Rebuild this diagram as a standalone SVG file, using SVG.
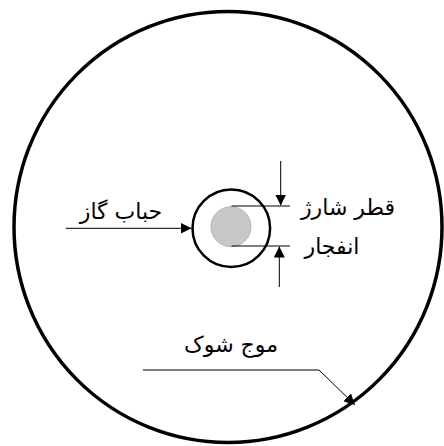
<svg xmlns="http://www.w3.org/2000/svg" width="444" height="446" viewBox="0 0 444 446">
<defs>
<style>
.lbl{font-family:"DejaVu Sans","Noto Sans",sans-serif;font-size:22px;fill:#000;text-anchor:middle}
.ln{stroke:#000;stroke-width:1;fill:none}
</style>
<marker id="ah" viewBox="0 0 10 10" refX="10" refY="5" markerWidth="11" markerHeight="11" markerUnits="userSpaceOnUse" orient="auto">
<path d="M0,0 L10,5 L0,10 Z" fill="#000"/>
</marker>
</defs>
<rect width="444" height="446" fill="#fff"/>
<g id="shock-wave">
<ellipse cx="228" cy="227" rx="214" ry="215.5" fill="none" stroke="#000" stroke-width="3.5"/>
</g>
<g id="gas-bubble">
<circle cx="231.3" cy="228.2" r="38.8" fill="none" stroke="#000" stroke-width="2.5"/>
</g>
<g id="charge">
<circle cx="231" cy="226.7" r="20" fill="#c8c8c8" stroke="#b4b4b4" stroke-width="1"/>
</g>
<g id="connectors">
<line class="ln" x1="231.5" y1="206" x2="290" y2="206" stroke="#333"/>
<line class="ln" x1="231.5" y1="246" x2="290" y2="246"/>
<line class="ln" x1="280.7" y1="161" x2="280.7" y2="205.5" marker-end="url(#ah)"/>
<line class="ln" x1="279.3" y1="287" x2="279.3" y2="246.5" marker-end="url(#ah)"/>
<line class="ln" x1="65.7" y1="228.3" x2="191.5" y2="228.3" marker-end="url(#ah)"/>
<polyline class="ln" points="143,370 319,370 355,405" marker-end="url(#ah)"/>
</g>
<g id="labels">
<text class="lbl" x="121" y="219">حباب گاز</text>
<text class="lbl" x="348" y="215">قطر شارژ</text>
<text class="lbl" x="332" y="254">انفجار</text>
<text class="lbl" x="231" y="352">موج شوک</text>
</g>
</svg>
